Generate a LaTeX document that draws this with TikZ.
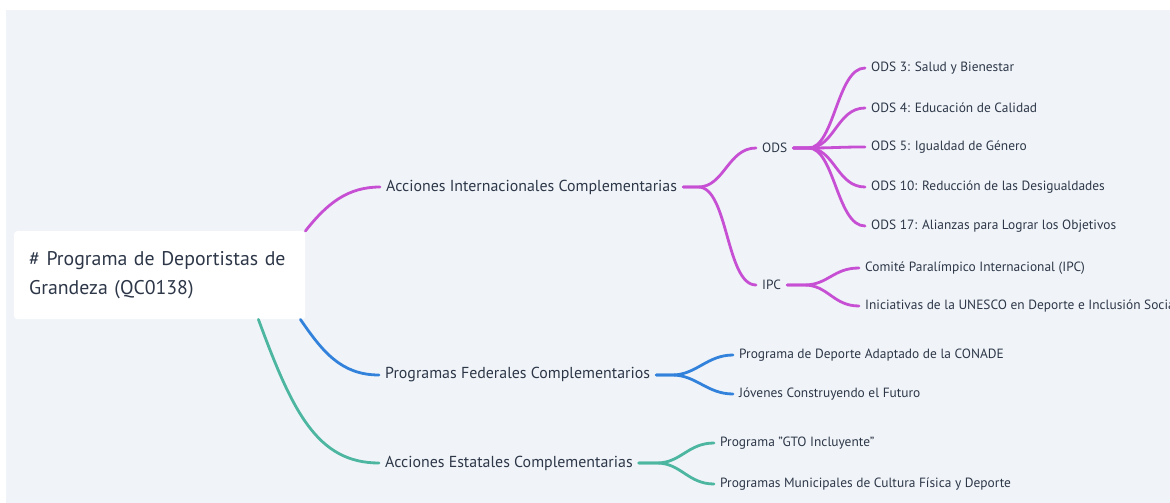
\documentclass[tikz,border=0pt]{standalone}
\usepackage{fontspec}
\setmainfont{PT Sans}
\usetikzlibrary{positioning,calc}
\definecolor{Orchid}{RGB}{198,79,211}
\definecolor{Azure}{RGB}{50,130,220}
\definecolor{Jade}{RGB}{77,182,160}
\definecolor{Slate}{RGB}{45,55,72}
\definecolor{Mist}{RGB}{240,244,248}

\begin{document}
\begin{tikzpicture}[
    x=1pt,y=-1pt,
    rootbox/.style={rectangle,fill=white,rounded corners=3pt,minimum width=291pt,minimum height=88pt,inner xsep=15pt,align=left,text width=261pt,text=Slate,font=\fontsize{19.8}{29}\selectfont},
    topic/.style={inner xsep=6pt,inner ysep=0pt,anchor=west,text=Slate,font=\fontsize{15.9}{18}\selectfont},
    leaf/.style={inner xsep=6pt,inner ysep=0pt,anchor=west,text=Slate,font=\fontsize{13.4}{15}\selectfont},
    link/.style={line width=2.8pt,line cap=round,draw=#1}
]
\useasboundingbox (0,0) rectangle (1170,503);
\clip (0,0) rectangle (1170,503);
\fill[Mist] (6,10) rectangle (1170,503);

% Root
\node[rootbox,anchor=north west] (root) at (14,231) {\# Programa de Deportistas de\\Grandeza (QC0138)};

% Main topics
\node[topic] (acc-int) at (380,187) {Acciones Internacionales Complementarias};
\node[topic] (prog-fed) at (379,375) {Programas Federales Complementarios};
\node[topic] (acc-est) at (379,463) {Acciones Estatales Complementarias};

\draw[link=Orchid] (root.north east) .. controls +(22,-28) and +(-32,0) .. (acc-int.west);
\draw[link=Azure] ([xshift=-5pt]root.south east) .. controls +(22,32) and +(-38,0) .. (prog-fed.west);
\draw[link=Jade] ([xshift=-47pt]root.south east) .. controls +(34,92) and +(-62,0) .. (acc-est.west);

% Internacionales
\node[leaf] (ods) at (756,148) {ODS};
\node[leaf] (ipc) at (756,285) {IPC};

\draw[link=Orchid] (acc-int.east) -- ++(15,0) .. controls +(26,0) and +(-28,0) .. (ods.west);
\draw[link=Orchid] (acc-int.east) -- ++(15,0) .. controls +(30,0) and +(-30,0) .. (ipc.west);

% ODS
\node[leaf] (ods-3) at (865,68) {ODS 3: Salud y Bienestar};
\node[leaf] (ods-4) at (865,108) {ODS 4: Educación de Calidad};
\node[leaf] (ods-5) at (865,147) {ODS 5: Igualdad de Género};
\node[leaf] (ods-10) at (865,187) {ODS 10: Reducción de las Desigualdades};
\node[leaf] (ods-17) at (865,226) {ODS 17: Alianzas para Lograr los Objetivos};

\draw[link=Orchid] (ods.east) -- ++(15,0) .. controls +(26,0) and +(-28,0) .. (ods-3.west);
\draw[link=Orchid] (ods.east) -- ++(15,0) .. controls +(26,0) and +(-28,0) .. (ods-4.west);
\draw[link=Orchid] (ods.east) -- ++(15,0) .. controls +(26,0) and +(-28,0) .. (ods-5.west);
\draw[link=Orchid] (ods.east) -- ++(15,0) .. controls +(26,0) and +(-28,0) .. (ods-10.west);
\draw[link=Orchid] (ods.east) -- ++(15,0) .. controls +(26,0) and +(-28,0) .. (ods-17.west);

% IPC
\node[leaf] (ipc-1) at (859,268) {Comité Paralímpico Internacional (IPC)};
\node[leaf] (ipc-2) at (859,306) {Iniciativas de la UNESCO en Deporte e Inclusión Social};

\draw[link=Orchid] (ipc.east) -- ++(17,0) .. controls +(24,0) and +(-26,0) .. (ipc-1.west);
\draw[link=Orchid] (ipc.east) -- ++(17,0) .. controls +(24,0) and +(-26,0) .. (ipc-2.west);

% Federales
\node[leaf] (fed-1) at (733,355) {Programa de Deporte Adaptado de la CONADE};
\node[leaf] (fed-2) at (733,394) {Jóvenes Construyendo el Futuro};

\draw[link=Azure] (prog-fed.east) -- ++(16,0) .. controls +(24,0) and +(-26,0) .. (fed-1.west);
\draw[link=Azure] (prog-fed.east) -- ++(16,0) .. controls +(24,0) and +(-26,0) .. (fed-2.west);

% Estatales
\node[leaf] (est-1) at (714,443) {Programa "GTO Incluyente"};
\node[leaf] (est-2) at (714,484) {Programas Municipales de Cultura Física y Deporte};

\draw[link=Jade] (acc-est.east) -- ++(18,0) .. controls +(24,0) and +(-26,0) .. (est-1.west);
\draw[link=Jade] (acc-est.east) -- ++(18,0) .. controls +(24,0) and +(-26,0) .. (est-2.west);

\end{tikzpicture}
\end{document}
